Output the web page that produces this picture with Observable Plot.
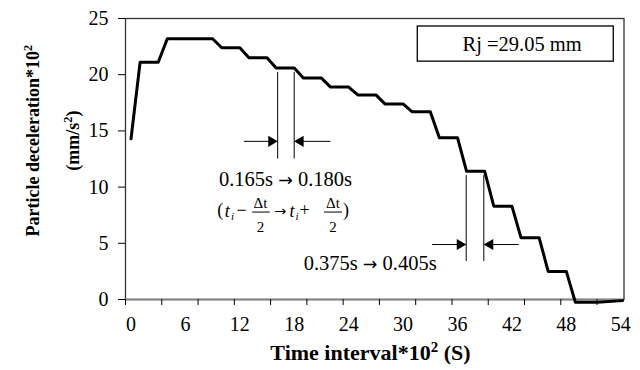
<!DOCTYPE html>
<html><head><meta charset="utf-8">
<script src="https://cdn.jsdelivr.net/npm/d3@7"></script>
<script src="https://cdn.jsdelivr.net/npm/@observablehq/plot@0.6"></script>
<style>body{margin:0;background:#fff}</style>
</head><body><div id="chart"></div>
<script>
// ---- data (time ×10² s, deceleration ×10² mm/s²)
const times = [0, 1, 3, 4, 9, 10, 12, 13, 15, 16, 18, 19, 21, 22, 24, 25, 27, 28, 30, 31, 33, 34, 36, 37, 39, 40, 42, 43, 45, 46, 48, 49, 51.4, 54.2];
const decel = [14.3, 21.1, 21.1, 23.2, 23.2, 22.4, 22.4, 21.5, 21.5, 20.6, 20.6, 19.7, 19.7, 18.9, 18.9, 18.2, 18.2, 17.4, 17.4, 16.7, 16.7, 14.4, 14.4, 11.4, 11.4, 8.3, 8.3, 5.5, 5.5, 2.5, 2.5, -0.25, -0.25, -0.1];
const yTicks = [0, 5, 10, 15, 20, 25];
const xLabels = [0, 6, 12, 18, 24, 30, 36, 42, 48, 54];
const xTickMarks = [-0.61, 3.39, 7.39, 11.39, 15.39, 19.39, 23.39, 27.39, 31.39, 35.39, 39.39, 43.39, 47.39, 51.39];
const legendText = "Rj =29.05 mm";
const xTitle = "Time interval*10² (S)";
const yTitle = ["Particle deceleration*10²", "(mm/s²)"];
const note1 = "0.165s → 0.180s";
const note2 = "0.375s → 0.405s";

const data = times.map((t, i) => ({t, v: decel[i]}));

// ---- annotation layout (in data units)
const legendBox = [{x1: 31.62, x2: 53.23, y1: 21.16, y2: 24.29}];
const bracketLines = [
  {x: 16.17, y1: 12.5, y2: 20.2}, {x: 17.99, y1: 12.5, y2: 20.2},
  {x: 36.96, y1: 3.38, y2: 11.02}, {x: 38.9, y1: 3.38, y2: 11.02}
];
const shafts = [
  {x1: 12.44, x2: 16.0, y: 14.07}, {x1: 21.99, x2: 18.2, y: 14.07},
  {x1: 33.21, x2: 36.8, y: 4.89}, {x1: 42.76, x2: 39.1, y: 4.89}
];
const heads = [
  {x: 15.48, y: 14.07, rot: 90}, {x: 18.68, y: 14.07, rot: -90},
  {x: 36.27, y: 4.89, rot: 90}, {x: 39.59, y: 4.89, rot: -90}
];
const notes = [
  {x: 17.03, y: 10.67, text: note1},
  {x: 26.37, y: 3.17, text: note2},
  {x: 43.13, y: 22.71, text: legendText}
];
const formulaUpright = [
  {x: 9.85, y: 7.91, text: "("}, {x: 12.18, y: 7.91, text: "−"},
  {x: 16.45, y: 7.91, text: "→"}, {x: 19.13, y: 7.91, text: "+"},
  {x: 23.7, y: 7.91, text: ")"}
];
const formulaItalic = [{x: 10.6, y: 7.82, text: "t"}, {x: 17.75, y: 7.82, text: "t"}];
const formulaSub = [{x: 11.2, y: 7.38, text: "i"}, {x: 18.3, y: 7.38, text: "i"}];
const formulaFrac = [
  {x: 14.28, y: 8.56, text: "Δt"}, {x: 14.28, y: 6.43, text: "2"},
  {x: 22.27, y: 8.56, text: "Δt"}, {x: 22.27, y: 6.43, text: "2"}
];
const fracBars = [{x1: 13.36, x2: 15.30, y: 7.78}, {x1: 21.28, x2: 23.26, y: 7.78}];

const chart = Plot.plot({
  width: 640, height: 370,
  marginLeft: 125, marginRight: 16.5, marginTop: 18, marginBottom: 71,
  x: {domain: [-0.61, 54.36], axis: null},
  y: {domain: [0, 25], axis: null},
  style: {fontFamily: "Liberation Serif", fontSize: "20px", color: "black", background: "white"},
  marks: [
    Plot.frame({stroke: "#333", strokeWidth: 1.3}),
    Plot.ruleY([0], {stroke: "#888", strokeWidth: 2}),
    Plot.axisY({ticks: yTicks, tickSize: 7, tickPadding: 10, fontSize: 20, label: null}),
    Plot.axisX({ticks: xTickMarks, tickSize: 6, tickFormat: () => "", label: null}),
    Plot.axisX({ticks: xLabels, tickSize: 0, tickPadding: 17, fontSize: 20, label: null}),
    Plot.line(data, {x: "t", y: "v", stroke: "black", strokeWidth: 3}),
    Plot.rect(legendBox, {x1: "x1", x2: "x2", y1: "y1", y2: "y2", fill: "white", stroke: "black", strokeWidth: 1.3}),
    Plot.ruleX(bracketLines, {x: "x", y1: "y1", y2: "y2", stroke: "black", strokeWidth: 1}),
    Plot.link(shafts, {x1: "x1", x2: "x2", y1: "y", y2: "y", stroke: "black", strokeWidth: 1}),
    Plot.dot(heads, {x: "x", y: "y", rotate: "rot", symbol: "triangle", r: 4.1, fill: "black", stroke: "none"}),
    Plot.text(notes, {x: "x", y: "y", text: "text", fontSize: 20.5}),
    Plot.text(formulaUpright, {x: "x", y: "y", text: "text", fontSize: 18}),
    Plot.text(formulaItalic, {x: "x", y: "y", text: "text", fontSize: 18, fontStyle: "italic"}),
    Plot.text(formulaSub, {x: "x", y: "y", text: "text", fontSize: 11, fontStyle: "italic"}),
    Plot.text(formulaFrac, {x: "x", y: "y", text: "text", fontSize: 15}),
    Plot.link(fracBars, {x1: "x1", x2: "x2", y1: "y", y2: "y", stroke: "black", strokeWidth: 1}),
    Plot.text([xTitle], {x: 26.4, y: -4.75, text: d => d, fontSize: 22, fontWeight: "bold"}),
    Plot.text([{x: -10.75, t: yTitle[0]}, {x: -6.34, t: yTitle[1]}], {x: "x", y: () => 14.13, text: "t", rotate: -90, fontSize: 18, fontWeight: "bold"})
  ]
});

// superscripts and wider arrows as tspans (text stays real text)
d3.select(chart).selectAll("text").each(function () {
  const s = this.textContent;
  if (!/[²→]/.test(s)) return;
  const el = d3.select(this);
  const formulaArrow = s === "→";
  el.text(null);
  for (const part of s.split(/(²|→)/)) {
    if (!part) continue;
    if (part === "²") {
      el.append("tspan").attr("font-size", "0.68em").attr("baseline-shift", "super").text("2");
    } else if (part === "→") {
      el.append("tspan").attr("font-family", "DejaVu Sans").attr("font-size", formulaArrow ? "0.8em" : "0.85em").text("→");
    } else {
      el.append("tspan").text(part);
    }
  }
});
document.getElementById("chart").appendChild(chart);
</script>
</body></html>
